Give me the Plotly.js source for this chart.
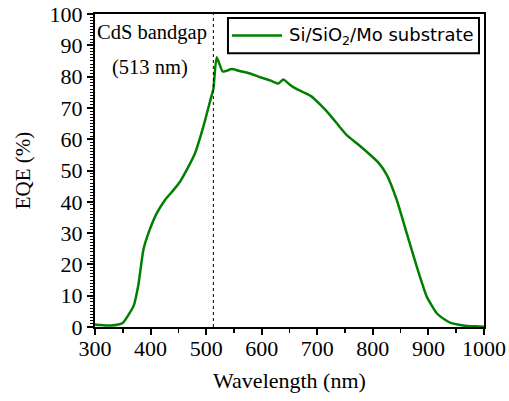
<!DOCTYPE html>
<html>
<head>
<meta charset="utf-8">
<script src="https://cdn.plot.ly/plotly-3.0.1.min.js"></script>
<style>
html,body{margin:0;padding:0;background:#fff;}
#chart{width:509px;height:401px;}
</style>
</head>
<body>
<div id="chart"></div>
<script>
const wavelength = [300, 310, 320, 330, 340, 350, 360, 370, 378, 387, 396, 411, 426, 440, 453, 466, 480, 495, 510, 513, 519, 530, 546, 560, 579, 594, 615, 630, 639, 650, 660, 675, 690, 705, 723, 740, 753, 771, 792, 810, 825, 843, 861, 879, 897, 915, 930, 939, 955, 969, 985, 1000];
const eqe = [0.8, 0.6, 0.5, 0.5, 0.7, 1.3, 3.8, 7, 13.4, 24.6, 29.9, 36.3, 40.6, 43.5, 46.4, 50.5, 55.5, 64, 74.1, 76, 86.2, 81.6, 82.4, 81.8, 81.0, 80.0, 78.8, 77.8, 79.1, 77.5, 76.3, 75, 73.6, 71.1, 67.7, 64, 61.3, 58.7, 55.5, 52.5, 48.6, 40.6, 29.9, 19.3, 9.7, 4.4, 2.3, 1.4, 0.7, 0.3, 0.2, 0.1];
const seriesName = "Si/SiO<sub>2</sub>/Mo substrate";
const bandgap = 513;
const bandgapLabel1 = "CdS bandgap";
const bandgapLabel2 = "(513 nm)";
const xTitle = "Wavelength (nm)";
const yTitle = "EQE (%)";

const serif = "Liberation Serif, Times New Roman, serif";
const green = "#008000";

const trace = {
  x: wavelength, y: eqe, type: "scatter", mode: "lines",
  name: seriesName, showlegend: false,
  line: {color: green, width: 2.5, shape: "spline", smoothing: 0.5}
};

const layout = {
  width: 509, height: 401,
  margin: {l: 95, r: 25, t: 14, b: 74},
  paper_bgcolor: "#fff", plot_bgcolor: "#fff",
  showlegend: false,
  xaxis: {
    range: [300, 1000], dtick: 100, tick0: 300,
    showgrid: false, zeroline: false,
    showline: true, linecolor: "#000", linewidth: 2, mirror: true,
    ticks: "outside", ticklen: 6, tickwidth: 2, tickcolor: "#000",
    ticklabelstandoff: -5,
    minor: {dtick: 50, ticks: "outside", ticklen: 4, tickwidth: 1.5, tickcolor: "#000"},
    tickfont: {family: serif, size: 22, color: "#000"},
    title: {text: xTitle, font: {family: serif, size: 22, color: "#000"}, standoff: 12}
  },
  yaxis: {
    range: [0, 100], dtick: 10,
    showgrid: false, zeroline: false,
    showline: true, linecolor: "#000", linewidth: 2, mirror: true,
    ticks: "outside", ticklen: 6, tickwidth: 2, tickcolor: "#000",
    minor: {dtick: 1, ticks: "outside", ticklen: 3, tickwidth: 1, tickcolor: "#000"},
    tickfont: {family: serif, size: 22, color: "#000"},
    title: {text: yTitle, font: {family: serif, size: 21, color: "#000"}, standoff: 13}
  },
  shapes: [
    {type: "line", xref: "x", yref: "y",
     x0: bandgap, x1: bandgap, y0: 0, y1: 100,
     line: {color: "#000", width: 1, dash: "dot"}},
    {type: "rect", xref: "x", yref: "y",
     x0: 539.3, x1: 991, y0: 87.5, y1: 98.7,
     line: {color: "#000", width: 2}, fillcolor: "#fff"},
    {type: "line", xref: "x", yref: "y",
     x0: 546.5, x1: 636.5, y0: 93.1, y1: 93.1,
     line: {color: green, width: 2.5}}
  ],
  annotations: [
    {x: 402, y: 94, xref: "x", yref: "y", text: bandgapLabel1, showarrow: false,
     font: {family: serif, size: 20.5, color: "#000"}},
    {x: 399, y: 83, xref: "x", yref: "y", text: bandgapLabel2, showarrow: false,
     font: {family: serif, size: 20.5, color: "#000"}},
    {x: 646, y: 93.1, xref: "x", yref: "y", xanchor: "left", yanchor: "middle",
     text: seriesName, showarrow: false,
     font: {family: "DejaVu Sans, Verdana, sans-serif", size: 18, color: "#000"}}
  ]
};

Plotly.newPlot("chart", [trace], layout, {staticPlot: true, displayModeBar: false});
</script>
</body>
</html>
